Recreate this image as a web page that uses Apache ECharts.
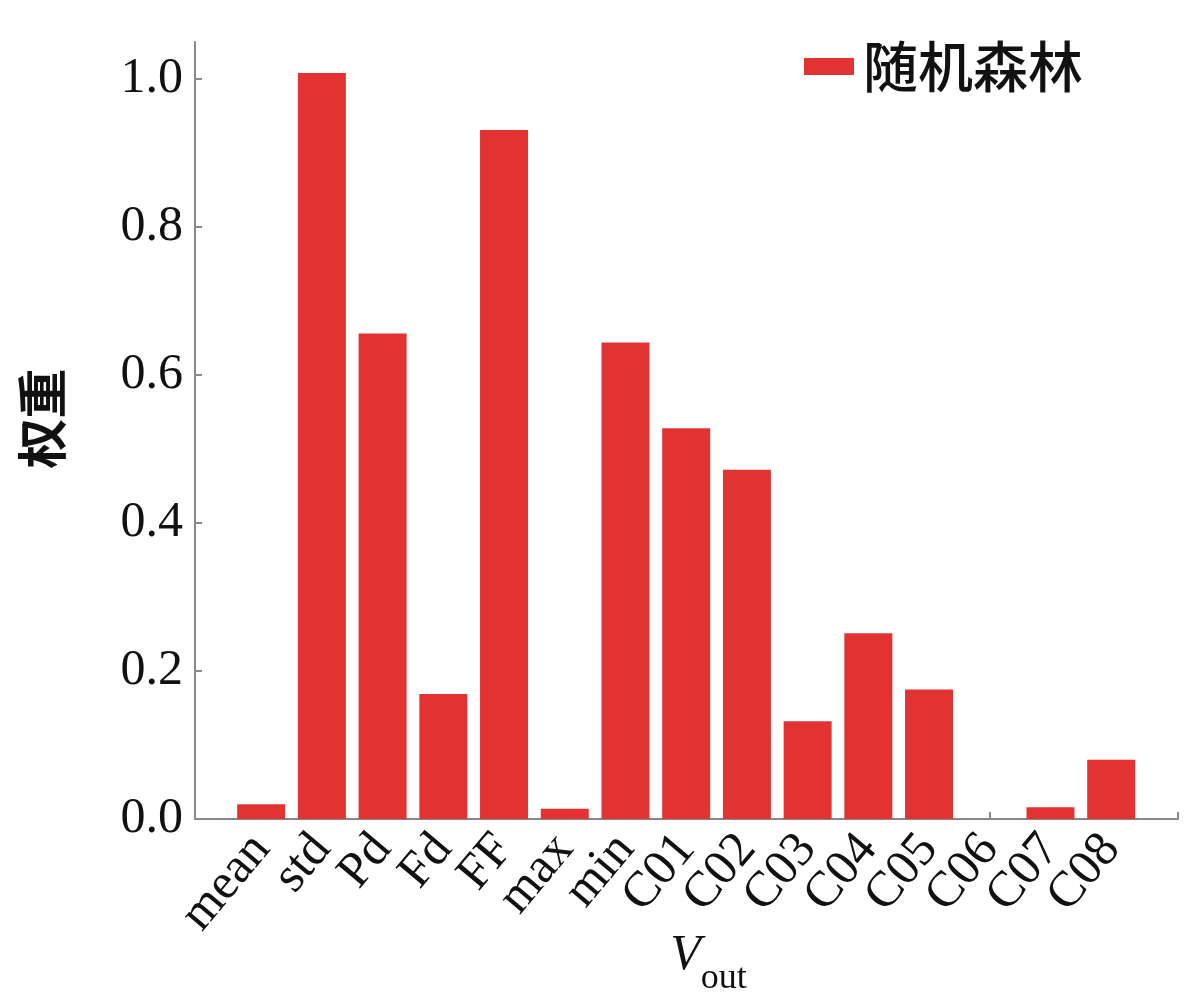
<!DOCTYPE html>
<html>
<head>
<meta charset="utf-8">
<script src="https://cdn.jsdelivr.net/npm/echarts@6/dist/echarts.min.js"></script>
<style>html,body{margin:0;padding:0;background:#fff;}#c{width:1200px;height:1006px;}</style>
</head>
<body>
<div id="c"></div>
<script>
const categories = ['mean','std','Pd','Fd','FF','max','min','C01','C02','C03','C04','C05','C06','C07','C08'];
const weights = [0.020, 1.008, 0.656, 0.169, 0.931, 0.014, 0.644, 0.528, 0.472, 0.132, 0.251, 0.175, 0.0, 0.016, 0.080];
const yTicks = [0, 0.2, 0.4, 0.6, 0.8, 1.0];
const seriesName = '随机森林';

const serif = '"Liberation Serif", "Times New Roman", serif';
const cjk = '"Noto Sans CJK SC", sans-serif';
const xMin = -0.09, xMax = categories.length + 1.1;
const catPos = categories.map((_, i) => i + 1);
const chart = echarts.init(document.getElementById('c'));
chart.setOption({
  animation: false,
  backgroundColor: '#fff',
  grid: { left: 195, right: 22, top: 42, bottom: 187, containLabel: false, outerBoundsMode: 'none' },
  legend: {
    right: 112, top: 34,
    itemWidth: 50, itemHeight: 17, itemGap: 10,
    icon: 'rect',
    textStyle: { fontFamily: cjk, fontSize: 55, fontWeight: 500, color: '#111', padding: [0, 0, 0, 4] },
    data: [seriesName]
  },
  xAxis: {
    type: 'value', min: xMin, max: xMax,
    splitLine: { show: false },
    axisLine: { show: true, onZero: false, lineStyle: { color: '#888', width: 2 } },
    axisTick: { show: true, inside: true, length: 7, customValues: catPos.concat([xMax]), lineStyle: { color: '#888', width: 2 } },
    axisLabel: {
      customValues: [xMin].concat(catPos, [xMax]), hideOverlap: false,
      rotate: 50, margin: 22, fontFamily: serif, fontSize: 50, lineHeight: 36, color: '#111',
      formatter: v => (Math.abs(v - Math.round(v)) < 1e-6 ? (categories[Math.round(v) - 1] || '') : '')
    },
    name: '{v|V}{s|out}',
    nameLocation: 'middle', nameGap: 112, nameMoveOverlap: false,
    nameTextStyle: {
      padding: [0, 0, 0, 44],
      rich: {
        v: { fontFamily: serif, fontStyle: 'italic', fontSize: 50, color: '#111', padding: [0, 0, 16, 0], verticalAlign: 'bottom' },
        s: { fontFamily: serif, fontSize: 36, color: '#111', verticalAlign: 'bottom' }
      }
    }
  },
  yAxis: {
    type: 'value', min: 0, max: 1.05,
    splitLine: { show: false },
    axisLine: { show: true, onZero: false, lineStyle: { color: '#888', width: 2 } },
    axisTick: { show: true, inside: true, length: 7, customValues: yTicks, lineStyle: { color: '#888', width: 2 } },
    axisLabel: { customValues: yTicks, fontFamily: serif, fontSize: 50, color: '#111', margin: 12, formatter: v => v.toFixed(1) },
    name: '权重', nameLocation: 'middle', nameGap: 128, nameRotate: 90,
    nameTextStyle: { fontFamily: cjk, fontSize: 50, fontWeight: 600, color: '#111', padding: [0, 0, 0, 24] }
  },
  series: [{
    name: seriesName,
    type: 'bar',
    barWidth: 48,
    itemStyle: { color: '#e33232' },
    data: weights.map((w, i) => [catPos[i], w])
  }]
});
</script>
</body>
</html>
